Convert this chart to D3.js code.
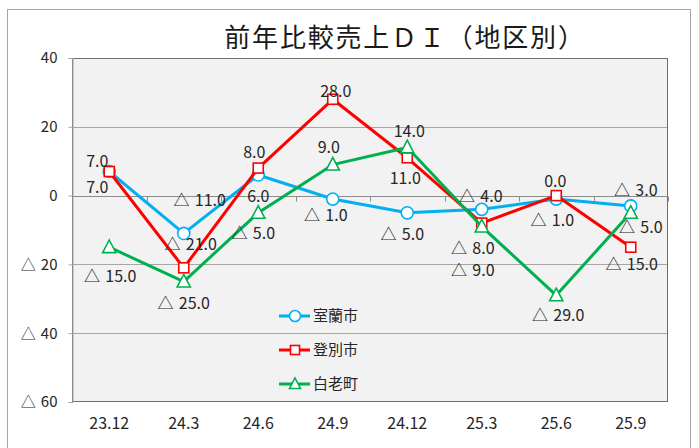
<!DOCTYPE html>
<html><head><meta charset="utf-8">
<script src="https://cdn.jsdelivr.net/npm/d3@7"></script>
<style>
html,body{margin:0;padding:0;background:#fff;}
svg{display:block;font-family:"Noto Sans CJK JP","Noto Sans",sans-serif;}
text{white-space:pre;}
</style></head>
<body><svg id="c" width="699" height="448"></svg>
<script>
const title = "前年比較売上ＤＩ（地区別）";
const categories = ["23.12","24.3","24.6","24.9","24.12","25.3","25.6","25.9"];
const seriesNames = ["室蘭市","登別市","白老町"];
const muroran = [7.0,-11.0,6.0,-1.0,-5.0,-4.0,-1.0,-3.0];
const noboribetsu = [7.0,-21.0,8.0,28.0,11.0,-8.0,0.0,-15.0];
const shiraoi = [-15.0,-25.0,-5.0,9.0,14.0,-9.0,-29.0,-5.0];
const yTicks = [40,20,0,-20,-40,-60];

// label offsets (styling): [dx,dy] from point
const labelOffsets = [
  [[-12,16],[16,-33],[0,21],[-7,16],[-5,21],[-1,-13],[-4,21],[5,-16]],
  [[-12,-10],[7,-24],[-4,-16],[3,-8],[-2,20],[-9,25],[-1,-14],[1,17]],
  [[1,29],[0,22],[-5,20],[-4,-17],[2,-16],[-9,44],[2,20],[10,14]]
];
const colors = ["#00b0f0","#ff0000","#00b050"];
const markers = ["circle","square","triangle"];
const seriesVals = [muroran, noboribetsu, shiraoi];

const svg = d3.select("#c");
const L=72, R=668, T=58, B=402;
const NEG = "△\u2004";
const fmt = v => v < 0 ? NEG + d3.format(".1f")(-v) : d3.format(".1f")(v);
const fmtTick = v => v < 0 ? NEG + (-v) : String(v);

// outer frame
svg.append("rect").attr("x",7.5).attr("y",9.5).attr("width",683).attr("height",460)
  .attr("fill","#fff").attr("stroke","#a6a6a6").attr("stroke-width",1);

const x = d3.scaleBand().domain(categories).range([L,R]);
const y = d3.scaleLinear().domain([-60,40]).range([B,T]);

// plot background
svg.append("rect").attr("x",L).attr("y",T).attr("width",R-L).attr("height",B-T).attr("fill","#f2f2f2");

// gridlines
svg.append("g").selectAll("line").data(yTicks.filter(v=>v!==0 && v!==40 && v!==-60)).join("line")
  .attr("x1",L).attr("x2",R).attr("y1",d=>Math.round(y(d))+0.5).attr("y2",d=>Math.round(y(d))+0.5)
  .attr("stroke","#a6a6a6").attr("stroke-width",1);

// plot border
svg.append("rect").attr("x",L+0.5).attr("y",T+0.5).attr("width",R-L-1).attr("height",B-T-1)
  .attr("fill","none").attr("stroke","#6e6e6e").attr("stroke-width",1);

// y axis
const yAxis = d3.axisLeft(y).tickValues(yTicks).tickFormat(fmtTick).tickSize(4).tickPadding(11);
const gy = svg.append("g").attr("transform",`translate(${L+0.5},0)`).call(yAxis);
gy.select(".domain").attr("stroke","#a6a6a6");
gy.selectAll(".tick line").attr("stroke","#a6a6a6");
gy.selectAll(".tick text").attr("font-size","15px").attr("fill","#262626")
  .attr("font-family",'"Noto Sans CJK JP",sans-serif');

// zero axis line with category boundary ticks
const y0 = Math.round(y(0))+0.5;
svg.append("line").attr("x1",L).attr("x2",R).attr("y1",y0).attr("y2",y0).attr("stroke","#8c8c8c");
const bounds = categories.map(c=>x(c)).concat([R]);
svg.append("g").selectAll("line").data(bounds).join("line")
  .attr("x1",d=>Math.round(d)+0.5).attr("x2",d=>Math.round(d)+0.5).attr("y1",y0).attr("y2",y0+5)
  .attr("stroke","#8c8c8c");

// x labels
svg.append("g").selectAll("text").data(categories).join("text")
  .attr("x",d=>x(d)+x.bandwidth()/2).attr("y",429).attr("text-anchor","middle")
  .attr("font-size","16px").attr("fill","#262626").text(d=>d);

// title
svg.append("text").attr("x",405).attr("y",47).attr("text-anchor","middle")
  .attr("font-size","26px").attr("letter-spacing","1.8px").attr("fill","#1a1a1a").text(title);

const cx = i => x(categories[i]) + x.bandwidth()/2;

function drawMarker(g, type, color, px, py, s){
  if(type==="circle"){
    g.append("circle").attr("cx",px).attr("cy",py).attr("r",s*0.55).attr("fill","#fff").attr("stroke",color).attr("stroke-width",1.6);
  } else if(type==="square"){
    g.append("rect").attr("x",px-s/2).attr("y",py-s/2).attr("width",s).attr("height",s).attr("fill","#fff").attr("stroke",color).attr("stroke-width",1.6);
  } else {
    const h=s*1.0, w=s*1.1;
    g.append("path").attr("d",`M${px},${py-h*0.6}L${px+w/2},${py+h*0.45}L${px-w/2},${py+h*0.45}Z`)
      .attr("fill","#fff").attr("stroke",color).attr("stroke-width",1.6);
  }
}

const line = d3.line().x((d,i)=>cx(i)).y(d=>y(d));
seriesVals.forEach((vals,si)=>{
  const g = svg.append("g");
  g.append("path").datum(vals).attr("d",line).attr("fill","none").attr("stroke",colors[si])
    .attr("stroke-width",3).attr("stroke-linejoin","round");
  vals.forEach((v,i)=>drawMarker(g, markers[si], colors[si], cx(i), y(v), markers[si]==="square"?10:(markers[si]==="circle"?11:12)));
});

// data labels
seriesVals.forEach((vals,si)=>{
  svg.append("g").selectAll("text").data(vals).join("text")
    .attr("x",(d,i)=>cx(i)+labelOffsets[si][i][0])
    .attr("y",(d,i)=>y(d)+labelOffsets[si][i][1])
    .attr("dy","0.36em").attr("text-anchor","middle")
    .attr("font-size","16px").attr("fill","#262626").text(d=>fmt(d));
});

// legend
const lg = svg.append("g");
seriesNames.forEach((n,i)=>{
  const ly = 316 + i*34;
  lg.append("line").attr("x1",279).attr("x2",310).attr("y1",ly).attr("y2",ly).attr("stroke",colors[i]).attr("stroke-width",3);
  drawMarker(lg, markers[i], colors[i], 295, ly, markers[i]==="square"?9:(markers[i]==="circle"?10:10));
  lg.append("text").attr("x",313).attr("y",ly).attr("dy","0.36em").attr("font-size","15px").attr("fill","#262626").text(n);
});
</script></body></html>
